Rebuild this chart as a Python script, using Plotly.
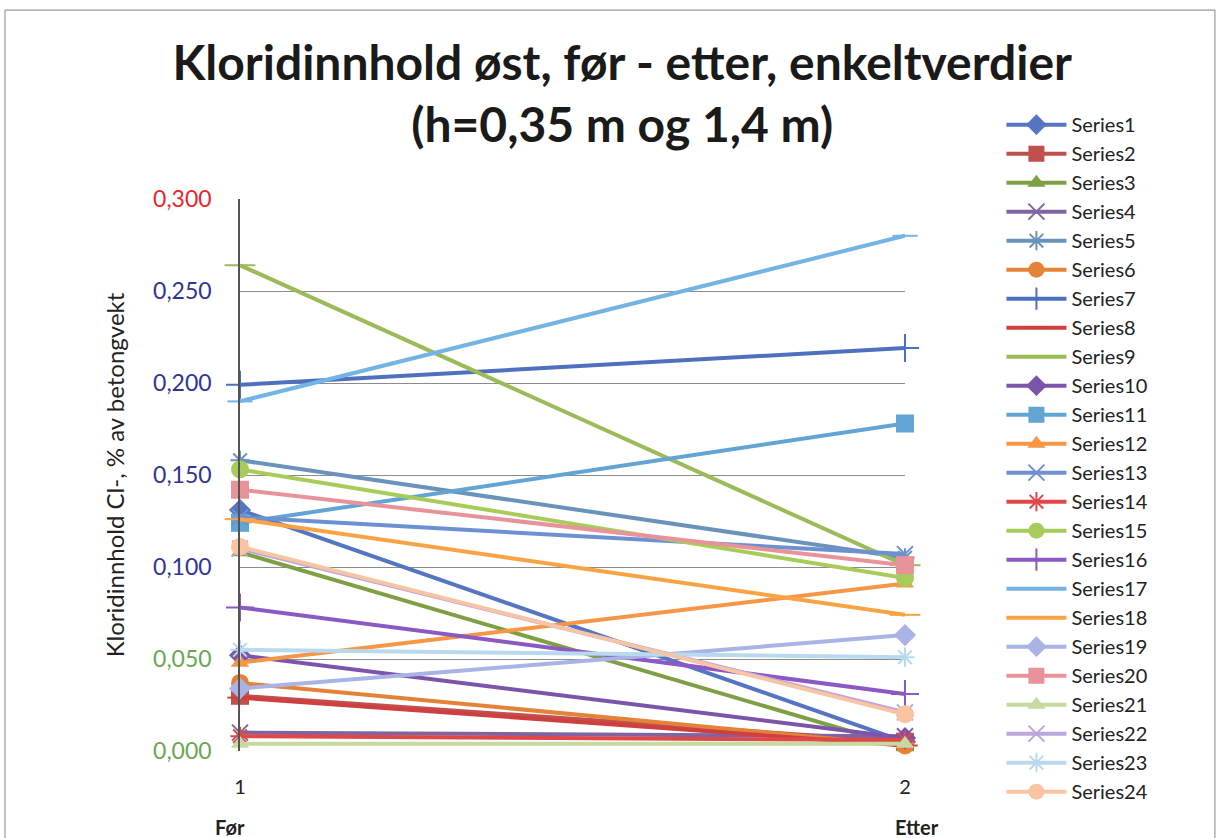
import plotly.graph_objects as go

# Measurement occasions (category axis)
occasions = [1, 2]
occasion_names = ["Før", "Etter"]

# Chloride content (% of concrete weight), before -> after, per sample
series1 = [0.131, 0.005]
series2 = [0.030, 0.005]
series3 = [0.108, 0.002]
series4 = [0.010, 0.008]
series5 = [0.158, 0.105]
series6 = [0.037, 0.003]
series7 = [0.199, 0.219]
series8 = [0.029, 0.003]
series9 = [0.264, 0.101]
series10 = [0.052, 0.007]
series11 = [0.124, 0.178]
series12 = [0.048, 0.091]
series13 = [0.127, 0.107]
series14 = [0.008, 0.006]
series15 = [0.153, 0.094]
series16 = [0.078, 0.031]
series17 = [0.190, 0.280]
series18 = [0.126, 0.074]
series19 = [0.034, 0.063]
series20 = [0.142, 0.101]
series21 = [0.004, 0.004]
series22 = [0.110, 0.021]
series23 = [0.055, 0.051]
series24 = [0.111, 0.020]

all_series = [series1, series2, series3, series4, series5, series6, series7, series8,
              series9, series10, series11, series12, series13, series14, series15,
              series16, series17, series18, series19, series20, series21, series22,
              series23, series24]
names = [f"Series{i}" for i in range(1, 25)]

y_ticks = [0.0, 0.05, 0.10, 0.15, 0.20, 0.25, 0.30]
y_tick_labels = ["0,000", "0,050", "0,100", "0,150", "0,200", "0,250", "0,300"]
y_tick_colors = ["#6aa655", "#6aa655", "#2f3590", "#2f3590", "#2f3590", "#2f3590", "#e8262d"]

colors = ["#5575c2", "#c0504d", "#7f9f45", "#8064a2", "#6a93bb", "#e48237",
          "#4f6fc0", "#cf3f3f", "#9bbb59", "#7c55ab", "#62a4d4", "#f79646",
          "#6d90d2", "#e04848", "#a8cc5a", "#8a59c4", "#74b4e4", "#f8a445",
          "#a9b3e6", "#e8939a", "#c5d9a0", "#bba6de", "#b9d9ee", "#f8c4a2"]
symbol_cycle = ["diamond", "square", "triangle-up", "x-thin-open", "asterisk-open",
                "circle", "cross-thin-open", "line-ew-open", "line-ew-open"]
size_cycle = [17, 18, 16, 16, 16, 18, 20, 18, 22]

fig = go.Figure()
for i, (vals, name, col) in enumerate(zip(all_series, names, colors)):
    k = i % 9
    fig.add_trace(go.Scatter(
        x=occasions, y=vals, name=name, mode="lines+markers",
        line=dict(color=col, width=4),
        marker=dict(symbol=symbol_cycle[k], size=size_cycle[k], color=col,
                    line=dict(color=col, width=2 if k >= 3 and k != 5 else 0)),
        cliponaxis=False,
    ))

# Category names under the tick numbers
for xv, nm in zip(occasions, occasion_names):
    fig.add_annotation(x=xv, y=0, xref="x", yref="paper", yanchor="top",
                       yshift=-62, xshift=-10 if xv == 1 else 12,
                       text=f"<b>{nm}</b>", showarrow=False,
                       font=dict(family="Lato", size=20, color="#222222"))

# Chart-area border
fig.add_shape(type="rect", xref="paper", yref="paper",
              x0=-0.3534, x1=1.466, y0=-0.3, y1=1.342,
              line=dict(color="#9a9a9a", width=1.2), layer="below")

fig.update_layout(
    width=1220, height=838,
    margin=dict(l=240, r=315, t=199, b=87),
    paper_bgcolor="white", plot_bgcolor="white",
    title=dict(text="<b>Kloridinnhold øst, før - etter, enkeltverdier<br>(h=0,35 m og 1,4 m)</b>",
               x=0.51, xanchor="center", y=0.905, yanchor="top",
               font=dict(family="Lato", size=48, color="#1a1a1a")),
    font=dict(family="Lato", color="#222222"),
    showlegend=True,
    legend=dict(x=1.145, xanchor="left", y=1.17, yanchor="top",
                font=dict(family="Lato", size=20, color="#222222"),
                itemwidth=60, tracegroupgap=0, maxheight=760,
                bgcolor="rgba(0,0,0,0)"),
    xaxis=dict(range=[1, 2], tickvals=occasions, ticktext=["1", "2"],
               showgrid=False, zeroline=False, showline=False,
               ticklabelstandoff=22,
               tickfont=dict(family="Lato", size=20, color="#222222"), ticks=""),
    yaxis=dict(range=[0, 0.3], tickvals=y_ticks,
               ticktext=[f"<span style='color:{c}'>{t}</span>" for t, c in zip(y_tick_labels, y_tick_colors)],
               showgrid=True, gridcolor="#8c8c8c", gridwidth=1, zeroline=False,
               showline=True, linecolor="#555555", linewidth=1.5, ticks="",
               ticklabelstandoff=22,
               tickfont=dict(family="Lato", size=23),
               title=dict(text="Kloridinnhold Cl-, % av betongvekt",
                          font=dict(family="Lato", size=24, color="#222222"), standoff=22)),
)

fig.write_html("out.html")
